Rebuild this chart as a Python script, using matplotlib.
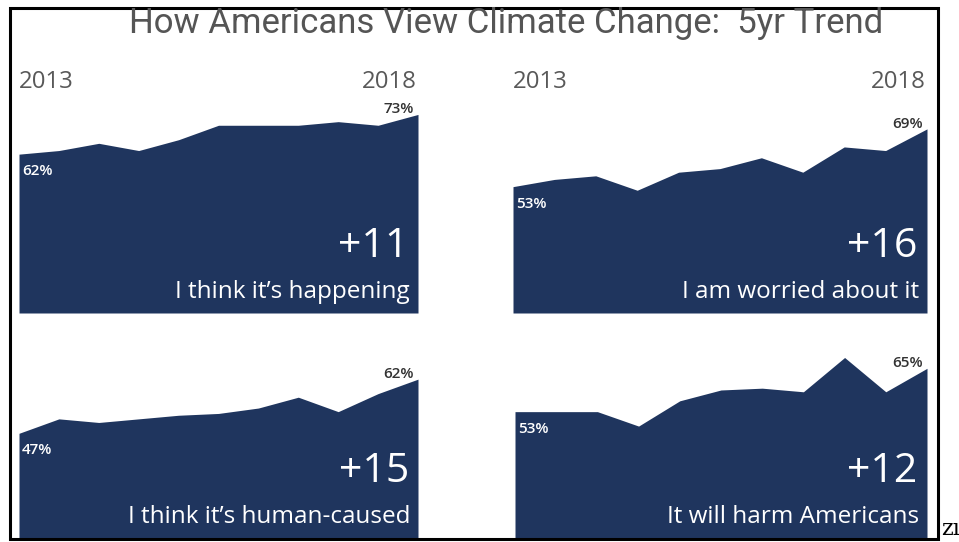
import matplotlib
matplotlib.use("Agg")
import matplotlib.pyplot as plt
from matplotlib.patches import Rectangle

# survey waves 2013 -> 2018 (11 waves)
waves = list(range(11))
happening = [62, 63, 65, 63, 66, 70, 70, 70, 71, 70, 73]
worried = [53, 55, 56, 52, 57, 58, 61, 57, 64, 63, 69]
human_caused = [47, 51, 50, 51, 52, 52.5, 54, 57, 53, 58, 62]
harm_americans = [53, 53, 53, 49, 56, 59, 59.5, 58.5, 68, 58.5, 65]

labels = ["I think it\u2019s happening", "I am worried about it",
          "I think it\u2019s human-caused", "It will harm Americans"]
series = [happening, worried, human_caused, harm_americans]
start_year = "2013"
end_year = "2018"

W, H = 959, 542
NAVY = "#1f355e"
body_font = "Open Sans"

fig = plt.figure(figsize=(W / 100, H / 100), dpi=100)
fig.patch.set_facecolor("white")

# panel boxes in pixels: left, top, right, bottom
boxes = [(19, 100, 418, 313), (513, 100, 927, 313),
         (19, 325, 418, 538), (515, 325, 927, 538)]

for i, (vals, lab, (l, t, r, b)) in enumerate(zip(series, labels, boxes)):
    ax = fig.add_axes([l / W, (H - b) / H, (r - l) / W, (b - t) / H])
    ax.fill_between(waves, vals, 18, color=NAVY, linewidth=0)
    ax.set_xlim(0, 10)
    ax.set_ylim(18, 77)
    ax.axis("off")

    ax.annotate(f"{vals[0]:.0f}%", (0, vals[0]), xytext=(3, -17),
                textcoords="offset pixels", ha="left", va="center",
                color="white", fontsize=11, fontweight="semibold",
                family=body_font)
    ax.annotate(f"{vals[-1]:.0f}%", (10, vals[-1]), xytext=(-4, -2),
                textcoords="offset pixels", ha="right", va="bottom",
                color="#333333", fontsize=11, fontweight="semibold",
                family=body_font)

    change = round(vals[-1] - vals[0])
    ax.text(0.977, 0.31, f"+{change}", transform=ax.transAxes, ha="right",
            va="center", color="white", fontsize=29.5, family=body_font)
    ax.text(0.98, 0.10, lab, transform=ax.transAxes, ha="right",
            va="center", color="white", fontsize=17.5, family=body_font)

    if i < 2:
        ax.text(0.0, 1.085, start_year, transform=ax.transAxes, ha="left",
                va="center", color="#595959", fontsize=17.3, family=body_font)
        ax.text(0.998, 1.085, end_year, transform=ax.transAxes, ha="right",
                va="center", color="#595959", fontsize=17.3, family=body_font)

fig.text(506 / W, 1 - 24 / H, "How Americans View Climate Change:  5yr Trend",
         ha="center", va="center", color="#555555", fontsize=25,
         family="Roboto")

# frame around the graphic
fig.patches.append(Rectangle((10 / W, 3 / H), 928 / W, 531 / H,
                             transform=fig.transFigure, fill=False,
                             edgecolor="black", linewidth=2.2))

fig.text(941 / W, 2 / H, "z\u0131", ha="left", va="bottom", color="black",
         fontsize=16, family="DejaVu Serif")

fig.savefig("out.png", dpi=100)
